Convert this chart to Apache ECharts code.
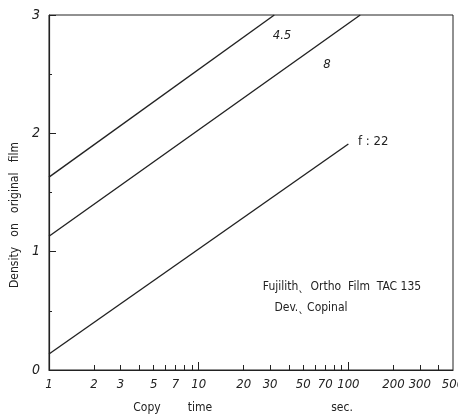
<!DOCTYPE html>
<html>
<head>
<meta charset="utf-8">
<script src="https://cdn.jsdelivr.net/npm/echarts@6/dist/echarts.min.js"></script>
<style>
  html, body { margin: 0; padding: 0; background: #fff; }
  #chart { width: 458px; height: 417px; }
</style>
</head>
<body>
<div id="chart"></div>
<script>
// copy time (sec) vs density, one line per f-stop
const lineF45 = [[1, 1.63], [32, 3.0]];
const lineF8 = [[1, 1.13], [120, 3.0]];
const lineF22 = [[1, 0.135], [100, 1.91]];

const xLabelValues = [1, 2, 3, 5, 7, 10, 20, 30, 50, 70, 100, 200, 300, 500];
const xMinorTicks = [2, 3, 4, 5, 6, 7, 8, 9, 20, 30, 40, 50, 60, 70, 80, 90, 200, 300, 400];
const xMajorTicks = [10, 100];

const ink = '#222';
const font = 'DejaVu Sans Condensed';

const chart = echarts.init(document.getElementById('chart'), null, { renderer: 'canvas' });

function lineSeries(name, data, xIndex) {
  return {
    name: name,
    type: 'line',
    xAxisIndex: xIndex,
    data: data,
    symbol: 'none',
    lineStyle: { color: ink, width: 1.4 },
    silent: true,
    animation: false
  };
}

// 文字标注 (annotations)
function txt(x, y, text, opts) {
  return {
    type: 'text',
    x: x,
    y: y,
    rotation: (opts && opts.rotation) || 0,
    style: Object.assign({
      text: text,
      fill: ink,
      font: '12px "' + font + '"',
      align: 'center',
      verticalAlign: 'middle'
    }, opts && opts.style)
  };
}

const option = {
  animation: false,
  grid: {
    left: 49, right: 5, top: 15, bottom: 47,
    outerBoundsMode: 'none', containLabel: false,
    show: true, borderColor: ink, borderWidth: 1
  },
  xAxis: [
    {
      type: 'log', logBase: 10, min: 1, max: 500,
      axisLine: { show: true, lineStyle: { color: ink, width: 1.2 } },
      axisTick: { show: true, inside: true, length: 5, customValues: xMinorTicks, lineStyle: { color: ink } },
      axisLabel: {
        customValues: xLabelValues,
        color: ink, fontStyle: 'italic', fontSize: 13, fontFamily: font, margin: 8
      },
      splitLine: { show: false }
    },
    {
      type: 'log', logBase: 10, min: 1, max: 500, position: 'bottom',
      axisLine: { show: false },
      axisTick: { show: true, inside: true, length: 8, customValues: xMajorTicks, lineStyle: { color: ink } },
      axisLabel: { show: false },
      splitLine: { show: false }
    }
  ],
  yAxis: {
    type: 'value', min: 0, max: 3, interval: 1,
    axisLine: { show: true, lineStyle: { color: ink, width: 1.2 } },
    axisTick: { show: true, inside: true, length: 7, lineStyle: { color: ink } },
    minorTick: { show: true, splitNumber: 2, length: 3, lineStyle: { color: ink } },
    axisLabel: { color: ink, fontStyle: 'italic', fontSize: 14, fontFamily: font, margin: 9 },
    splitLine: { show: false }
  },
  series: [
    lineSeries('f 4.5', lineF45, 0),
    lineSeries('f 8', lineF8, 0),
    lineSeries('f 22', lineF22, 0)
  ],
  graphic: [
    txt(282, 36, '4.5', { style: { font: 'italic 13px "' + font + '"' } }),
    txt(327, 65, '8', { style: { font: 'italic 13px "' + font + '"' } }),
    txt(358, 142, 'f : 22', { style: { align: 'left', font: '13px "' + font + '"' } }),
    txt(342, 287, 'Fujilith\u02CE  Ortho  Film  TAC 135'),
    txt(311, 308, 'Dev.\u02CE Copinal'),
    txt(147, 408, 'Copy'),
    txt(200, 408, 'time'),
    txt(342, 408, 'sec.'),
    txt(15, 215, 'Density   on   original   film', { rotation: Math.PI / 2, style: { font: '12px "' + font + '"' } })
  ]
};

chart.setOption(option);
</script>
</body>
</html>
